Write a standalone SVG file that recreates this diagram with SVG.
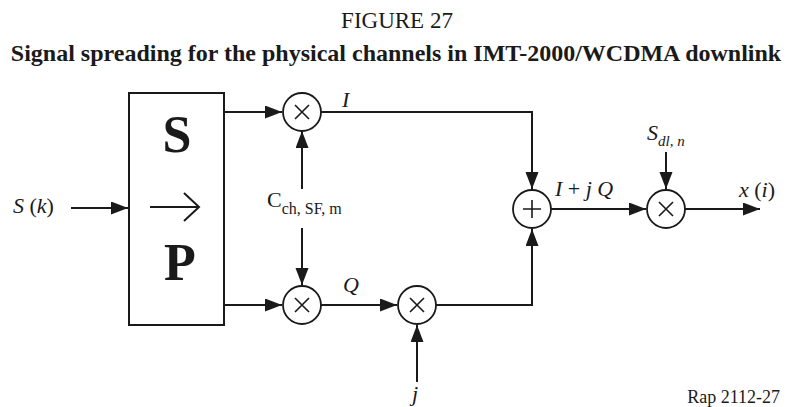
<svg xmlns="http://www.w3.org/2000/svg" width="788" height="407" viewBox="0 0 788 407">
<style>
.ln{stroke:#1a1a1a;stroke-width:2;fill:none}
.arr{stroke:#1a1a1a;stroke-width:2;fill:none;marker-end:url(#ah)}
.op{stroke:#1a1a1a;stroke-width:1.8;fill:#fff}
.sym{stroke:#1a1a1a;stroke-width:1.6;fill:none}
.t{font-family:"Liberation Serif","Times New Roman",serif;fill:#1a1a1a}
.it{font-style:italic}
</style>
<defs>
<marker id="ah" markerUnits="userSpaceOnUse" markerWidth="18" markerHeight="14" refX="17" refY="6.5" orient="auto">
<path d="M0,0 L17,6.5 L0,13 Z" fill="#1a1a1a"/>
</marker>
</defs>
<rect width="788" height="407" fill="#fff"/>
<text class="t" x="397" y="28" font-size="23" text-anchor="middle">FIGURE 27</text>
<text class="t" x="396" y="61" font-size="24" font-weight="bold" text-anchor="middle">Signal spreading for the physical channels in IMT-2000/WCDMA downlink</text>

<g id="connectors">
<path class="arr" d="M71,208 H128"/>
<path class="arr" d="M224,112 H282"/>
<path class="arr" d="M224,305 H282"/>
<path class="arr" d="M302,189 V131"/>
<path class="arr" d="M302,228 V285"/>
<path class="arr" d="M321,305 H397"/>
<path class="arr" d="M417,382 V325"/>
<path class="arr" d="M321,112 H532 V189"/>
<path class="arr" d="M436,305 H532 V229"/>
<path class="arr" d="M551,209 H646"/>
<path class="arr" d="M666,152 V189"/>
<path class="arr" d="M685,209 H760"/>
</g>

<g id="sp">
<rect x="129" y="93" width="95" height="232" class="ln" fill="#fff"/>
<text class="t" x="177" y="152" font-size="52" font-weight="bold" text-anchor="middle">S</text>
<path d="M150,207 H199 M184,193 L199,207 L184,221" stroke="#1a1a1a" stroke-width="2" fill="none"/>
<text class="t" x="180" y="280" font-size="52" font-weight="bold" text-anchor="middle">P</text>
</g>

<g id="mul1">
<circle class="op" cx="302" cy="112" r="19"/>
<path class="sym" d="M295,105 L309,119 M309,105 L295,119"/>
</g>
<g id="mul2">
<circle class="op" cx="302" cy="305" r="19"/>
<path class="sym" d="M295,298 L309,312 M309,298 L295,312"/>
</g>
<g id="mul3">
<circle class="op" cx="417" cy="305" r="19"/>
<path class="sym" d="M410,298 L424,312 M424,298 L410,312"/>
</g>
<g id="sum">
<circle class="op" cx="532" cy="209" r="19"/>
<path class="sym" d="M532,200 V218 M523,209 H541"/>
</g>
<g id="mul4">
<circle class="op" cx="666" cy="209" r="19"/>
<path class="sym" d="M659,202 L673,216 M673,202 L659,216"/>
</g>

<g id="labels">
<text class="t it" x="13" y="213" font-size="22">S<tspan font-style="normal"> (</tspan>k<tspan font-style="normal">)</tspan></text>
<text class="t" x="267" y="207" font-size="22">C<tspan font-size="16" dy="7">ch, SF, m</tspan></text>
<text class="t it" x="342" y="107" font-size="22">I</text>
<text class="t it" x="343" y="292" font-size="22">Q</text>
<text class="t it" x="412" y="401" font-size="22">j</text>
<text class="t it" x="555" y="196" font-size="22">I<tspan font-style="normal"> + </tspan>j Q</text>
<text class="t it" x="647" y="140" font-size="22">S<tspan font-size="15" dy="6">dl, n</tspan></text>
<text class="t it" x="739" y="197" font-size="22">x<tspan font-style="normal"> (</tspan>i<tspan font-style="normal">)</tspan></text>
<text class="t" x="780" y="403" font-size="18" text-anchor="end">Rap 2112-27</text>
</g>
</svg>
